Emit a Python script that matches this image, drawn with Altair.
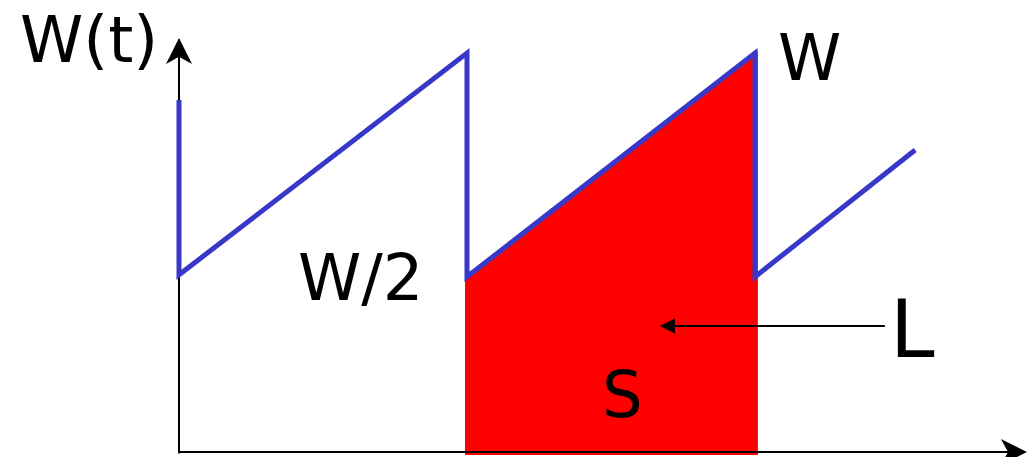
import altair as alt
import pandas as pd

# ---- data (units: t in congestion-window periods, W(t) as fraction of W) ----
saw_t = [0.0, 0.0, 1.0, 1.0, 2.0, 2.0, 2.556]
saw_w = [0.882, 0.444, 1.0, 0.439, 1.0, 0.439, 0.757]

area_t = [0.993, 2.0, 2.01]
area_top = [0.431, 1.005, 1.005]
area_bottom = -0.0075

label_text = ["W(t)", "W/2", "W", "L", "S"]
label_t = [-0.552, 0.413, 2.080, 2.469, 1.469]
label_w = [0.977, 0.381, 0.932, 0.238, 0.0877]
label_size = [64, 64, 64, 80, 64]

# axis extents
yaxis_top = 1.033
xaxis_right = 2.92
arrow_l_w = 0.316
arrow_l_t = [1.705, 2.451]

# ---- scales ----
W_PX = 1020
H_PX = 449
x_dom = [-0.59375, 2.9479]
y_dom = [-0.01253, 1.11278]
xs = alt.Scale(domain=x_dom, zero=False, nice=False)
ys = alt.Scale(domain=y_dom, zero=False, nice=False)

saw = pd.DataFrame({"t": saw_t, "w": saw_w, "o": list(range(len(saw_t)))})
area = pd.DataFrame({"t": area_t, "top": area_top, "bot": [area_bottom] * len(area_t)})
labels = pd.DataFrame({"text": label_text, "t": label_t, "w": label_w, "size": label_size})
rules = pd.DataFrame({
    "t": [0.0, 0.0, arrow_l_t[0]],
    "t2": [0.0, xaxis_right, arrow_l_t[1]],
    "w": [-0.004, 0.0, arrow_l_w],
    "w2": [yaxis_top, 0.0, arrow_l_w],
})
heads = pd.DataFrame({
    "t": [0.0, 2.899, 1.696],
    "w": [1.005, 0.0, arrow_l_w],
    "shape": ["M0,-1L1,1L0,0.45L-1,1Z", "M1,0L-1,-1L-0.45,0L-1,1Z", "M-1,0L1,-1L1,1Z"],
    "size": [676, 676, 225],
})

X = lambda f: alt.X(f, type="quantitative", scale=xs, axis=None)
Y = lambda f: alt.Y(f, type="quantitative", scale=ys, axis=None)

red = alt.Chart(area).mark_area(color="#FF0000", opacity=1).encode(
    x=X("t"), y=Y("top"), y2=alt.Y2("bot")
)

axes = alt.Chart(rules).mark_rule(color="black", strokeWidth=2).encode(
    x=X("t"), x2=alt.X2("t2"), y=Y("w"), y2=alt.Y2("w2")
)

blue = alt.Chart(saw).mark_line(color="#3838C8", strokeWidth=5, strokeJoin="miter").encode(
    x=X("t"), y=Y("w"), order="o:Q"
)

layers = [red, axes, blue]
for i in range(len(heads)):
    layers.append(
        alt.Chart(heads.iloc[[i]]).mark_point(
            shape=heads["shape"][i], filled=True, color="black", opacity=1,
            size=int(heads["size"][i]), strokeWidth=0
        ).encode(x=X("t"), y=Y("w"))
    )

for i in range(len(labels)):
    layers.append(
        alt.Chart(labels.iloc[[i]]).mark_text(
            align="left", baseline="alphabetic", font="DejaVu Sans",
            fontSize=int(labels["size"][i]), color="black"
        ).encode(x=X("t"), y=Y("w"), text="text:N")
    )

chart = alt.layer(*layers).properties(
    width=W_PX, height=H_PX, padding=0,
    autosize=alt.AutoSizeParams(type="none")
).configure_view(stroke=None)

chart.save("out.html", embed_options={"renderer": "svg", "actions": False})
